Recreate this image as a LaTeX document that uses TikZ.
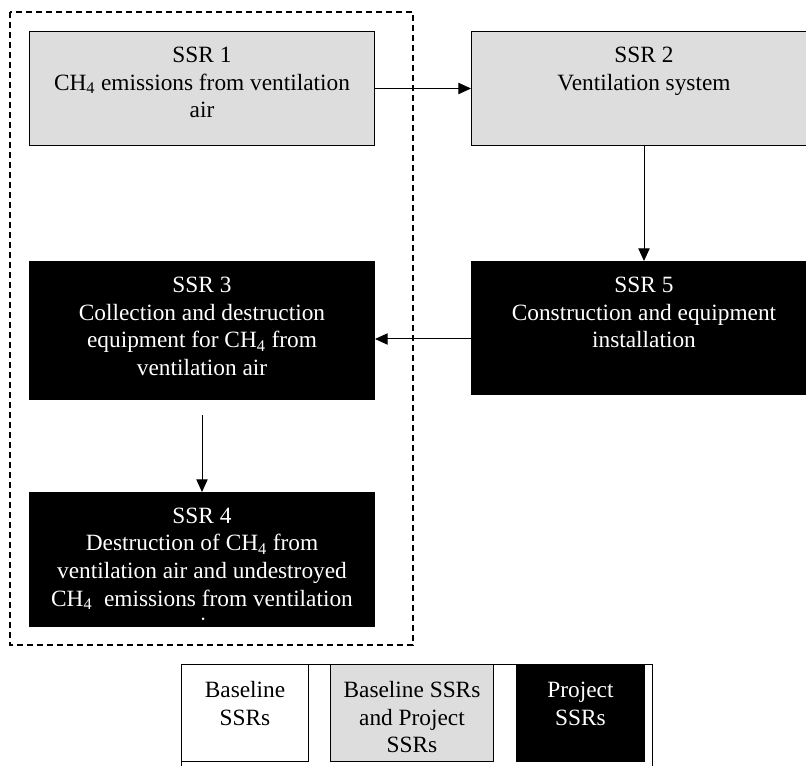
\documentclass[tikz,border=0pt]{standalone}
\usepackage{fontspec}
\setmainfont{Liberation Serif}
\usepackage{xcolor}
\usepackage{tikz}
\usetikzlibrary{arrows.meta, positioning}
\definecolor{boxgrey}{HTML}{DDDDDD}
\newcommand{\chfour}{CH\textsubscript{4}}
\newcommand{\boxtext}[4][23.25pt]{\parbox[c][#3][t]{#2}{\centering\rule{0pt}{#1}#4}}
\tikzstyle{plainbox} = [rectangle, draw=black, line width=1pt, inner sep=0pt, fill=white, text=black, font=\fontsize{17.5}{20.7}\selectfont]
\tikzstyle{bothbox} = [plainbox, fill=boxgrey]
\tikzstyle{projectbox} = [plainbox, fill=black, text=white]
\tikzstyle{arrow} = [line width=0.75pt, -{Triangle[length=9.5pt, width=8.5pt]}]
\tikzstyle{dashframe} = [line width=0.9pt, dash pattern=on 4.5pt off 3pt]

\begin{document}
\begin{tikzpicture}
	\useasboundingbox (0,0) rectangle (604.5pt,-574.5pt);
	
	% SSR boxes
	\node (ssr1) [bothbox, anchor=north west] at (21.75pt,-23.25pt) {\boxtext{258.5pt}{85.25pt}{SSR 1\\\chfour{} emissions from ventilation\\air}};
	\node (ssr2) [bothbox, right=72pt of ssr1] {\boxtext{258.5pt}{85.25pt}{SSR 2\\Ventilation system}};
	\node (ssr5) [projectbox, below=86.25pt of ssr2] {\boxtext{258.5pt}{99.5pt}{SSR 5\\Construction and equipment\\installation}};
	\node (ssr3) [projectbox, below=86.25pt of ssr1] {\boxtext{258.5pt}{103.25pt}{SSR 3\\Collection and destruction\\equipment for \chfour{} from\\ventilation air}};
	\node (ssr4) [projectbox, below=69pt of ssr3, minimum width=258.5pt, minimum height=100.25pt] {};
	
	% text of SSR 4 runs past its box and is cut off
	\begin{scope}
		\clip ([yshift=4.5pt]ssr4.south west) rectangle (ssr4.north east);
		\node (ssr4text) [anchor=north, inner sep=0pt, text=white, font=\fontsize{17.5}{20.7}\selectfont] at (ssr4.north) {\parbox[t]{258.5pt}{\centering\rule{0pt}{23.25pt}SSR 4\\Destruction of \chfour{} from\\ventilation air and undestroyed\\\chfour{}\ \ emissions from ventilation\\air}};
	\end{scope}
	
	\draw [dashframe] ([shift={(-14.25pt,14.25pt)}]ssr1.north west) rectangle ([shift={(28.5pt,-13.5pt)}]ssr4.south east);
	
	\draw [arrow] (ssr1) -- (ssr2);
	\draw [arrow] (ssr2) -- (ssr5);
	\draw [arrow] ([yshift=-8.25pt]ssr5.west) -- ([yshift=-8.25pt]ssr5.west -| ssr3.east);
	\draw [arrow] ([yshift=-11.25pt]ssr3.south) -- (ssr4);
	
	% legend
	\node (legbase) [plainbox, anchor=north west] at (135.75pt,-498pt) {\boxtext[24.75pt]{95pt}{72.5pt}{Baseline\\SSRs}};
	\node (legboth) [bothbox, right=15.75pt of legbase] {\boxtext[24.75pt]{122pt}{72.5pt}{Baseline SSRs\\and Project\\SSRs}};
	\node (legproj) [projectbox, right=16.5pt of legboth] {\boxtext[24.75pt]{95.75pt}{72.5pt}{Project\\SSRs}};
	\draw [line width=0.75pt] ([yshift=-10pt]legbase.south west) -- (legbase.north west) -- ++(353.25pt,0) -- ++(0,-90pt);
	
\end{tikzpicture}
\end{document}
